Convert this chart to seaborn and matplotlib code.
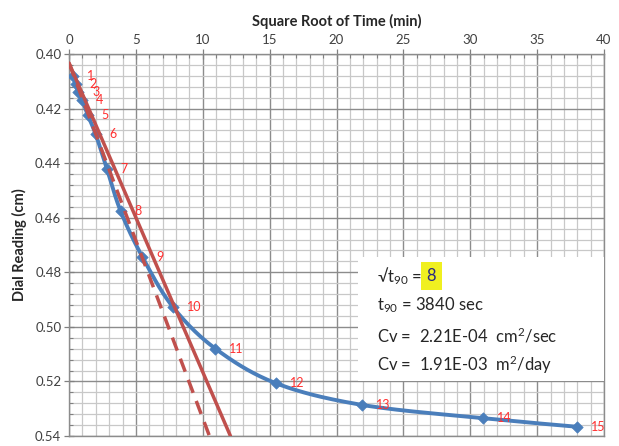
import numpy as np
import pandas as pd
import matplotlib
matplotlib.use("Agg")
import matplotlib.pyplot as plt
from matplotlib.ticker import MultipleLocator, FormatStrFormatter
import seaborn as sns

# ---- data ----
point_ids = list(range(1, 16))
sqrt_time = [0.316, 0.5, 0.707, 1.0, 1.414, 2.0, 2.83, 3.87, 5.48, 7.75, 10.95, 15.49, 21.9, 30.98, 37.95]
dial = [0.4080, 0.4110, 0.4140, 0.4170, 0.4225, 0.4295, 0.4420, 0.4577, 0.4743, 0.4926, 0.5080, 0.5207, 0.5286, 0.5335, 0.5366]

# construction lines (x at top reading, x at bottom reading)
line_y = [0.4033, 0.54]
dashed_x = [0.0, 10.5]
solid_x = [0.0, 12.07]

x_ticks = [0, 5, 10, 15, 20, 25, 30, 35, 40]
y_ticks = [0.40, 0.42, 0.44, 0.46, 0.48, 0.50, 0.52, 0.54]

info_lines = ["t$_{90}$ = 3840 sec",
              "Cv =  2.21E-04  cm$^2$/sec",
              "Cv =  1.91E-03  m$^2$/day"]
sqrt_t90 = "8"

BLUE = "#4a7ebb"
RED = "#c0504d"
LBL = "#ff3030"

sns.set_style("white")
plt.rcParams["font.family"] = ["Lato", "DejaVu Sans"]
plt.rcParams["mathtext.fontset"] = "custom"
plt.rcParams["mathtext.rm"] = "Lato"
plt.rcParams["mathtext.it"] = "Lato"

fig = plt.figure(figsize=(6.19, 4.46), dpi=100)
ax = fig.add_axes([69/619, 1-436/446, (604-69)/619, (436-54)/446])

# smooth curve (Catmull-Rom through the data points in normalized space)
def catmull(xs, ys, n=30):
    sx, sy = 535/40.0, 382/0.14
    P = np.column_stack([np.array(xs)*sx, np.array(ys)*sy])
    P = np.vstack([P[0]*2-P[1], P, P[-1]*2-P[-2]])
    out = []
    for i in range(1, len(P)-2):
        p0, p1, p2, p3 = P[i-1], P[i], P[i+1], P[i+2]
        t = np.linspace(0, 1, n, endpoint=(i == len(P)-3))[:, None]
        c = 0.5*((2*p1) + (-p0+p2)*t + (2*p0-5*p1+4*p2-p3)*t**2 + (-p0+3*p1-3*p2+p3)*t**3)
        out.append(c)
    C = np.vstack(out)
    return C[:, 0]/sx, C[:, 1]/sy

cx, cy = catmull(sqrt_time, dial)
curve = pd.DataFrame({"x": cx, "y": cy})
pts = pd.DataFrame({"x": sqrt_time, "y": dial, "id": point_ids})

sns.lineplot(data=curve, x="x", y="y", sort=False, estimator=None, color=BLUE, lw=2.8, ax=ax, zorder=3)
sns.scatterplot(data=pts, x="x", y="y", marker="D", s=34, color=BLUE, edgecolor=BLUE, ax=ax, zorder=4)

dl = pd.DataFrame({"x": dashed_x, "y": line_y})
sl = pd.DataFrame({"x": solid_x, "y": line_y})
sns.lineplot(data=dl, x="x", y="y", color=RED, lw=2.5, ls=(0, (4, 2.5)), ax=ax, zorder=5)
sns.lineplot(data=sl, x="x", y="y", color=RED, lw=2.5, ax=ax, zorder=5)

for i, x, y in zip(point_ids, sqrt_time, dial):
    ax.annotate(str(i), (x, y), xytext=(10, 0), textcoords="offset points",
                ha="left", va="center", color=LBL, fontsize=9, zorder=6)

ax.set_xlim(0, 40)
ax.set_ylim(0.54, 0.40)
ax.xaxis.set_major_locator(MultipleLocator(5))
ax.xaxis.set_minor_locator(MultipleLocator(1))
ax.yaxis.set_major_locator(MultipleLocator(0.02))
ax.yaxis.set_minor_locator(MultipleLocator(0.004))
ax.yaxis.set_major_formatter(FormatStrFormatter("%.2f"))
ax.xaxis.tick_top()
ax.xaxis.set_label_position("top")
ax.grid(which="major", color="#8c8c8c", lw=1.0, zorder=0)
ax.grid(which="minor", color="#c8c8c8", lw=0.9, zorder=0)
ax.set_axisbelow(True)
ax.tick_params(which="major", direction="inout", length=7, width=0.9, color="#808080",
               labelsize=9.5, labelcolor="#404040", pad=2)
ax.tick_params(which="minor", direction="in", length=3, width=0.8, color="#808080")
ax.tick_params(axis="x", which="both", top=True, bottom=False)
ax.tick_params(axis="y", which="both", left=True, right=False)
for s in ax.spines.values():
    s.set_color("#8c8c8c")
    s.set_linewidth(1.0)
ax.set_xlabel("Square Root of Time (min)", fontsize=10.5, fontweight="bold", labelpad=6)
ax.set_ylabel("Dial Reading (cm)", fontsize=10.5, fontweight="bold", labelpad=6)

# info box
box_l, box_r = (358-69)/535, (605-69)/535
box_t, box_b = 1-(257-54)/382, 1-(381-54)/382
ax.add_patch(plt.Rectangle((box_l, box_b), box_r-box_l, box_t-box_b, transform=ax.transAxes,
                           facecolor="white", edgecolor="none", zorder=7))
tx = (377-69)/535
ys_px = [276, 305, 336, 365]
t0 = ax.text(tx, 1-(ys_px[0]-54)/382, "√t$_{90}$ = ", transform=ax.transAxes, fontsize=12,
             va="center", ha="left", zorder=8)
fig.canvas.draw()
bb = t0.get_window_extent()
inv = ax.transAxes.inverted()
x_end = inv.transform((bb.x1 + 3, bb.y0))[0]
ax.text(x_end, 1-(ys_px[0]-54)/382, sqrt_t90, transform=ax.transAxes, fontsize=12,
        va="center", ha="left", color="#2b2b80", zorder=8,
        bbox=dict(boxstyle="square,pad=0.35", facecolor="#f0f020", edgecolor="none"))
for line, ypx in zip(info_lines, ys_px[1:]):
    ax.text(tx, 1-(ypx-54)/382, line, transform=ax.transAxes, fontsize=12,
            va="center", ha="left", zorder=8)

fig.savefig("out.png", dpi=100)
